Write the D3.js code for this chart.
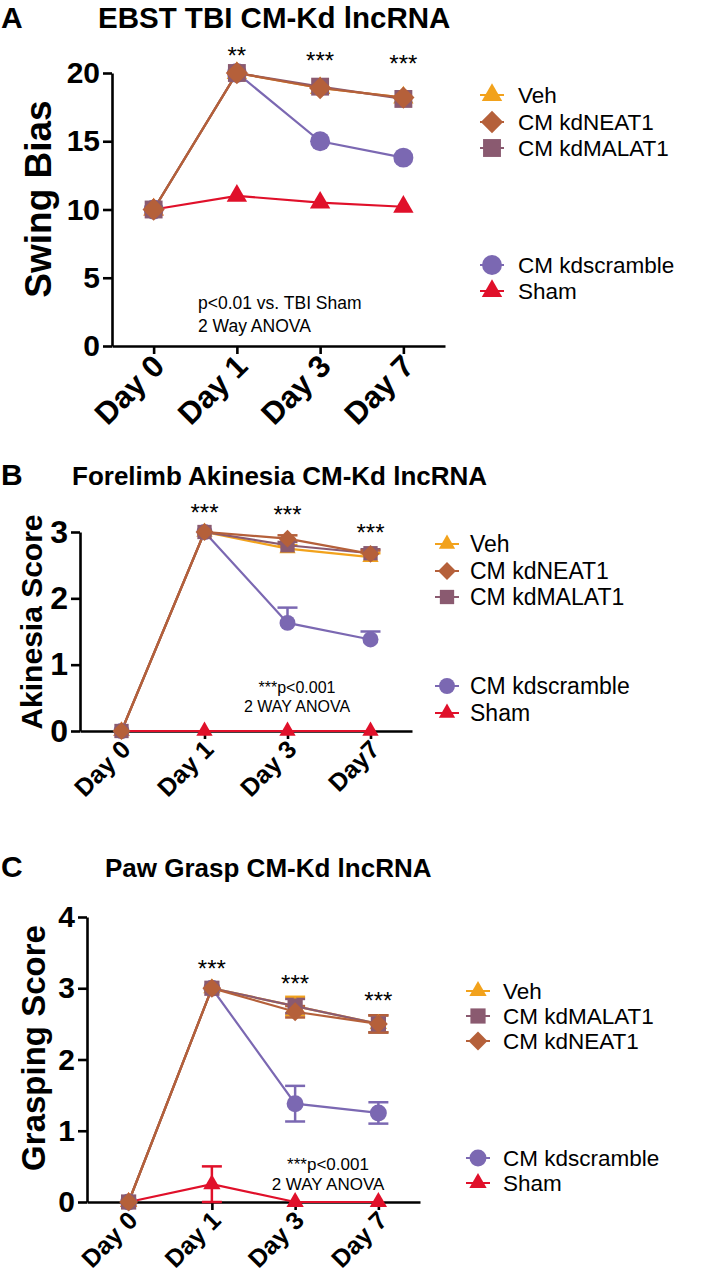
<!DOCTYPE html>
<html>
<head>
<meta charset="utf-8">
<script src="https://cdn.jsdelivr.net/npm/d3@7"></script>
<style>
  body { margin: 0; background: #fff; }
  svg { display: block; font-family: "Liberation Sans", Arial, sans-serif; }
</style>
</head>
<body>
<svg id="fig" width="712" height="1280"></svg>
<script>
// ---- data ----
var daysA = ["Day 0", "Day 1", "Day 3", "Day 7"];
var daysB = ["Day 0", "Day 1", "Day 3", "Day7"];
var daysC = ["Day 0", "Day 1", "Day 3", "Day 7"];

// A: swing bias
var aVeh   = [10, 20, 18.9, 18.2];
var aMalat = [10, 20, 19.0, 18.1];
var aNeat  = [10, 20, 18.9, 18.2];
var aScr   = [10, 20, 15.0, 13.8];
var aSham  = [10, 11, 10.5, 10.2];
var aStars = ["", "**", "***", "***"];
var aStarY = [0, 21.3, 20.9, 20.7];

// B: akinesia score
var bVeh   = [0, 3, 2.75, 2.62];
var bMalat = [0, 3, 2.80, 2.68];
var bNeat  = [0, 3, 2.90, 2.67];
var bScr   = [0, 3, 1.63, 1.38];
var bSham  = [0, 0, 0, 0];
var bVehErr   = [0, 0, 0.05, 0.06];
var bMalatErr = [0, 0, 0.05, 0.06];
var bNeatErr  = [0, 0, 0.05, 0.05];
var bScrErr   = [0, 0, 0.23, 0.12];
var bStars = ["", "***", "***", "***"];
var bStarY = [0, 3.3, 3.26, 3.0];

// C: grasping score
var cVeh   = [0, 3, 2.75, 2.5];
var cMalat = [0, 3, 2.75, 2.5];
var cNeat  = [0, 3, 2.67, 2.5];
var cScr   = [0, 3, 1.38, 1.25];
var cSham  = [0, 0.25, 0, 0];
var cVehErr   = [0, 0, 0.13, 0.12];
var cMalatErr = [0, 0, 0.10, 0.12];
var cNeatErr  = [0, 0, 0.08, 0.12];
var cScrErr   = [0, 0, 0.25, 0.15];
var cShamErr  = [0, 0.25, 0, 0];
var cStars = ["", "***", "***", "***"];
var cStarY = [0, 3.28, 3.07, 2.83];

var col = {
  veh: "#f2a21c", neat: "#b5603a", malat: "#8a5a70", scr: "#7b68b2", sham: "#e0102a"
};

var svg = d3.select("#fig");

function marker(type, size){
  if(type == "diamond")
    return { d: d3.symbol(d3.symbolSquare, size * size * 0.62)(), rot: 45 };
  if(type == "square")
    return { d: d3.symbol(d3.symbolSquare, size * size * 0.8)(), rot: 0 };
  if(type == "circle")
    return { d: d3.symbol(d3.symbolCircle, size * size * 0.78)(), rot: 0 };
  return { d: d3.symbol(d3.symbolTriangle, size * size * 0.45)(), rot: 0 };
}

function drawPanel(p){
  var g = svg.append("g");

  var x = d3.scalePoint().domain(p.days).range([p.left, p.right]).padding(0.5);
  var y = d3.scaleLinear().domain(p.yDomain).range([p.bottom, p.top]);

  // panel letter and title
  g.append("text").attr("x", 1).attr("y", p.titleY)
    .attr("font-size", 30).attr("font-weight", "bold").text(p.letter);
  g.append("text").attr("x", p.titleX).attr("y", p.titleY)
    .attr("font-size", p.titleSize).attr("font-weight", "bold").text(p.title);

  // axes
  var ya = g.append("g").attr("transform", "translate(" + p.left + ",0)")
    .call(d3.axisLeft(y).tickValues(p.yTicks).tickFormat(d3.format("d"))
      .tickSize(9).tickSizeOuter(0).tickPadding(3));
  ya.selectAll("text").attr("font-size", p.yTickSize).attr("font-weight", "bold")
    .attr("font-family", "Liberation Sans, Arial, sans-serif").attr("fill", "#000");

  var xa = g.append("g").attr("transform", "translate(0," + p.bottom + ")")
    .call(d3.axisBottom(x).tickSize(8).tickSizeOuter(0));
  xa.selectAll("text")
    .attr("font-size", p.xTickSize).attr("font-weight", "bold")
    .attr("font-family", "Liberation Sans, Arial, sans-serif").attr("fill", "#000")
    .attr("text-anchor", "end").attr("y", 0).attr("dy", 0)
    .attr("transform", "translate(" + p.xLabDx + "," + p.xLabDy + ") rotate(-45)");
  g.selectAll(".domain, .tick line").attr("stroke", "#000").attr("stroke-width", 2.6);

  g.append("text")
    .attr("transform", "translate(" + p.yLabX + "," + p.yLabY + ") rotate(-90)")
    .attr("text-anchor", "middle").attr("dominant-baseline", "central")
    .attr("font-size", p.yLabSize).attr("font-weight", "bold").text(p.yLabel);

  // error bars
  p.series.forEach(function(s){
    if(!s.err) return;
    s.values.forEach(function(v, i){
      var e = s.err[i];
      if(!e) return;
      var cx = x(p.days[i]);
      var lo = p.upOnly ? v : v - e, hi = v + e;
      var cap = 10;
      g.append("line").attr("x1", cx).attr("x2", cx).attr("y1", y(lo)).attr("y2", y(hi))
        .attr("stroke", s.color).attr("stroke-width", 2.5);
      g.append("line").attr("x1", cx - cap).attr("x2", cx + cap).attr("y1", y(hi)).attr("y2", y(hi))
        .attr("stroke", s.color).attr("stroke-width", 2.5);
      if(!p.upOnly)
        g.append("line").attr("x1", cx - cap).attr("x2", cx + cap).attr("y1", y(lo)).attr("y2", y(lo))
          .attr("stroke", s.color).attr("stroke-width", 2.5);
    });
  });

  // lines and markers
  var line = d3.line().x(function(d, i){ return x(p.days[i]); }).y(function(d){ return y(d); });
  p.series.forEach(function(s){
    g.append("path").datum(s.values).attr("d", line)
      .attr("fill", "none").attr("stroke", s.color).attr("stroke-width", 2.2);
  });
  p.series.forEach(function(s){
    var m = marker(s.type, p.mSize);
    s.values.forEach(function(v, i){
      g.append("path").attr("d", m.d).attr("fill", s.color)
        .attr("transform", "translate(" + x(p.days[i]) + "," + y(v) + ") rotate(" + m.rot + ")");
    });
  });

  // significance stars
  p.stars.forEach(function(st, i){
    if(!st) return;
    g.append("text").attr("x", x(p.days[i])).attr("y", y(p.starY[i]))
      .attr("text-anchor", "middle").attr("dominant-baseline", "central")
      .attr("font-size", 24).text(st);
  });

  // note
  p.note.forEach(function(t, i){
    g.append("text").attr("x", p.noteX).attr("y", p.noteY + i * p.noteGap)
      .attr("text-anchor", p.noteAnchor).attr("font-size", p.noteSize).text(t);
  });

  // legend
  p.legend.forEach(function(s, i){
    var ly = p.legendY[i];
    var m = marker(s.type, p.mSize);
    g.append("line").attr("x1", p.legX - 12).attr("x2", p.legX + 12)
      .attr("y1", ly).attr("y2", ly).attr("stroke", s.color).attr("stroke-width", 2);
    g.append("path").attr("d", m.d).attr("fill", s.color)
      .attr("transform", "translate(" + p.legX + "," + ly + ") rotate(" + m.rot + ")");
    g.append("text").attr("x", p.legTextX).attr("y", ly).attr("dominant-baseline", "central")
      .attr("font-size", p.legSize).text(s.name);
  });
}

var SA = {
  veh:   { name: "Veh", type: "triangle", color: col.veh },
  neat:  { name: "CM kdNEAT1", type: "diamond", color: col.neat },
  malat: { name: "CM kdMALAT1", type: "square", color: col.malat },
  scr:   { name: "CM kdscramble", type: "circle", color: col.scr },
  sham:  { name: "Sham", type: "triangle", color: col.sham }
};

function S(base, values, err){
  return { name: base.name, type: base.type, color: base.color, values: values, err: err };
}

// Panel A
drawPanel({
  letter: "A", title: "EBST TBI CM-Kd lncRNA", titleX: 98, titleY: 28, titleSize: 29.5,
  days: daysA, left: 112, right: 445, top: 73, bottom: 346, yDomain: [0, 20], yTicks: [0, 5, 10, 15, 20],
  yTickSize: 30, xTickSize: 31, xLabDx: 12, xLabDy: 22,
  yLabel: "Swing Bias", yLabX: 38, yLabY: 199, yLabSize: 37,
  mSize: 20, upOnly: false,
  series: [S(SA.scr, aScr), S(SA.sham, aSham), S(SA.veh, aVeh), S(SA.malat, aMalat), S(SA.neat, aNeat)],
  stars: aStars, starY: aStarY,
  note: ["p<0.01 vs. TBI Sham", "2 Way ANOVA"], noteX: 198, noteY: 309, noteGap: 23, noteSize: 17.5, noteAnchor: "start",
  legend: [SA.veh, SA.neat, SA.malat, SA.scr, SA.sham], legendY: [95, 122, 148, 265, 291],
  legX: 492, legTextX: 518, legSize: 22.5
});

// Panel B
drawPanel({
  letter: "B", title: "Forelimb Akinesia CM-Kd lncRNA", titleX: 72, titleY: 485, titleSize: 26,
  days: daysB, left: 80, right: 412, top: 532, bottom: 731, yDomain: [0, 3], yTicks: [0, 1, 2, 3],
  yTickSize: 32, xTickSize: 25, xLabDx: 10, xLabDy: 20,
  yLabel: "Akinesia Score", yLabX: 31, yLabY: 622, yLabSize: 30,
  mSize: 16, upOnly: true,
  series: [S(SA.scr, bScr, bScrErr), S(SA.sham, bSham), S(SA.veh, bVeh, bVehErr),
           S(SA.malat, bMalat, bMalatErr), S(SA.neat, bNeat, bNeatErr)],
  stars: bStars, starY: bStarY,
  note: ["***p<0.001", "2 WAY ANOVA"], noteX: 297, noteY: 693, noteGap: 19, noteSize: 16, noteAnchor: "middle",
  legend: [SA.veh, SA.neat, SA.malat, SA.scr, SA.sham], legendY: [544, 571, 597, 686, 713],
  legX: 447, legTextX: 470, legSize: 23
});

// Panel C
drawPanel({
  letter: "C", title: "Paw Grasp CM-Kd lncRNA", titleX: 105, titleY: 877, titleSize: 26,
  days: daysC, left: 87, right: 420, top: 917, bottom: 1202, yDomain: [0, 4], yTicks: [0, 1, 2, 3, 4],
  yTickSize: 30, xTickSize: 25, xLabDx: 10, xLabDy: 20,
  yLabel: "Grasping Score", yLabX: 33, yLabY: 1048, yLabSize: 33,
  mSize: 17, upOnly: false,
  series: [S(SA.scr, cScr, cScrErr), S(SA.sham, cSham, cShamErr), S(SA.veh, cVeh, cVehErr),
           S(SA.malat, cMalat, cMalatErr), S(SA.neat, cNeat, cNeatErr)],
  stars: cStars, starY: cStarY,
  note: ["***p<0.001", "2 WAY ANOVA"], noteX: 328, noteY: 1170, noteGap: 20, noteSize: 17, noteAnchor: "middle",
  legend: [SA.veh, SA.malat, SA.neat, SA.scr, SA.sham], legendY: [991, 1016, 1041, 1158, 1183],
  legX: 478, legTextX: 503, legSize: 22.5
});
</script>
</body>
</html>
